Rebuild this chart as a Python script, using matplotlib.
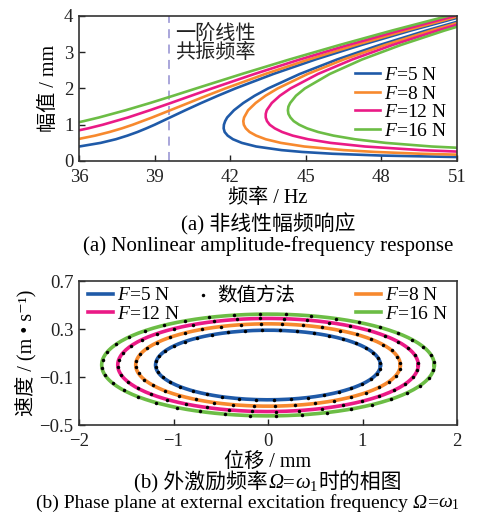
import numpy as np
import matplotlib
matplotlib.use("Agg")
import matplotlib.pyplot as plt
from matplotlib.lines import Line2D
from matplotlib.offsetbox import TextArea, HPacker, AnchoredOffsetbox

plt.rcParams['font.family'] = ['Liberation Serif', 'Noto Sans CJK SC', 'DejaVu Sans']
plt.rcParams['mathtext.fontset'] = 'custom'
plt.rcParams['mathtext.rm'] = 'Liberation Serif'
plt.rcParams['mathtext.it'] = 'Liberation Serif:italic'
plt.rcParams['axes.unicode_minus'] = True

# ---- (a) amplitude-frequency response ----
# upper (resonant) branch: amplitude [mm] -> frequency [Hz]
amp_up_5 = [0.4, 0.5, 0.6, 0.7, 0.8, 0.9, 1.0, 1.2, 1.4, 1.6, 1.8, 2.0, 2.4, 2.8, 3.2, 3.6, 4.0]
freq_up_5 = [36.01, 36.86, 37.46, 37.92, 38.32, 38.67, 39.00, 39.61, 40.22, 40.85, 41.51, 42.20,
             43.71, 45.38, 47.20, 49.17, 51.27]
amp_up_8 = [0.6, 0.7, 0.8, 0.9, 1.0, 1.2, 1.4, 1.6, 1.8, 2.0, 2.4, 2.8, 3.2, 3.6, 4.0]
freq_up_8 = [35.93, 36.64, 37.21, 37.70, 38.13, 38.90, 39.62, 40.34, 41.06, 41.80, 43.39, 45.11,
             46.98, 48.98, 51.10]
amp_up_12 = [0.8, 0.9, 1.0, 1.2, 1.4, 1.6, 1.8, 2.0, 2.4, 2.8, 3.2, 3.6, 4.0, 4.2]
freq_up_12 = [35.68, 36.36, 36.94, 37.94, 38.81, 39.64, 40.45, 41.27, 42.96, 44.76, 46.68, 48.73,
              50.89, 52.01]
amp_up_16 = [1.0, 1.1, 1.2, 1.4, 1.6, 1.8, 2.0, 2.4, 2.8, 3.2, 3.6, 4.0, 4.2]
freq_up_16 = [35.52, 36.19, 36.79, 37.85, 38.82, 39.74, 40.64, 42.46, 44.35, 46.34, 48.43, 50.63, 51.77]

# lower + unstable branch (the "C" shape)
amp_c_5 = [0.1, 0.15, 0.2, 0.25, 0.3, 0.4, 0.5, 0.6, 0.7, 0.8, 0.9, 1.0, 1.1, 1.2, 1.4, 1.6, 1.8,
           2.0, 2.4, 2.8, 3.2, 3.6, 4.0]
freq_c_5 = [51.71, 48.01, 46.06, 44.85, 44.04, 43.03, 42.46, 42.11, 41.90, 41.78, 41.74, 41.75,
            41.80, 41.88, 42.15, 42.52, 42.97, 43.50, 44.76, 46.24, 47.93, 49.79, 51.81]
amp_c_8 = [0.15, 0.2, 0.25, 0.3, 0.4, 0.5, 0.6, 0.7, 0.8, 0.9, 1.0, 1.1, 1.2, 1.4, 1.6, 1.8, 2.0,
           2.4, 2.8, 3.2, 3.6, 4.0]
freq_c_8 = [52.46, 49.56, 47.75, 46.51, 44.94, 44.01, 43.41, 43.03, 42.77, 42.62, 42.54, 42.52,
            42.55, 42.71, 43.01, 43.40, 43.88, 45.07, 46.50, 48.15, 49.98, 51.97]
amp_c_12 = [0.2, 0.25, 0.3, 0.4, 0.5, 0.6, 0.7, 0.8, 0.9, 1.0, 1.1, 1.2, 1.3, 1.4, 1.6, 1.8, 2.0,
            2.4, 2.8, 3.2, 3.6, 4.0]
freq_c_12 = [53.86, 51.34, 49.59, 47.35, 45.98, 45.09, 44.48, 44.06, 43.77, 43.57, 43.46, 43.41,
             43.41, 43.45, 43.65, 43.97, 44.39, 45.48, 46.84, 48.44, 50.23, 52.18]
amp_c_16 = [0.3, 0.4, 0.5, 0.6, 0.7, 0.8, 0.9, 1.0, 1.1, 1.2, 1.3, 1.4, 1.5, 1.6, 1.8, 2.0, 2.4,
            2.8, 3.2, 3.6, 4.0]
freq_c_16 = [52.94, 49.99, 48.17, 46.95, 46.10, 45.49, 45.05, 44.74, 44.52, 44.39, 44.31, 44.29,
             44.31, 44.38, 44.61, 44.96, 45.95, 47.23, 48.77, 50.51, 52.43]

linear_res_freq = 39.57

# ---- (b) phase plane at Omega = omega_1 ----
disp_amp = [1.19, 1.40, 1.59, 1.76]      # mm
vel_amp = [0.29, 0.343, 0.388, 0.424]    # m/s
n_dots = 40

labels = ['$F$=5 N', '$F$=8 N', '$F$=12 N', '$F$=16 N']
colors = ['#1f5aa8', '#f7892e', '#ea1a86', '#6cbd45']

fig = plt.figure(figsize=(4.99, 5.23), dpi=100)
W, H = 499, 523
ax1 = fig.add_axes([79 / W, 1 - 161 / H, 378 / W, 145 / H])
ax2 = fig.add_axes([79 / W, 1 - 425 / H, 378 / W, 144 / H])

ups = [(freq_up_5, amp_up_5), (freq_up_8, amp_up_8), (freq_up_12, amp_up_12), (freq_up_16, amp_up_16)]
cs = [(freq_c_5, amp_c_5), (freq_c_8, amp_c_8), (freq_c_12, amp_c_12), (freq_c_16, amp_c_16)]

ax1.axvline(linear_res_freq, color='#a39fd8', lw=1.3, ls=(0, (5, 3.5)))
for (fu, au), (fc, ac), col, lab in zip(ups, cs, colors, labels):
    ax1.plot(fu, au, color=col, lw=1.9, label=lab)
    ax1.plot(fc, ac, color=col, lw=1.9)

ax1.set_xlim(36, 51)
ax1.set_ylim(0, 4)
ax1.set_xticks([36, 39, 42, 45, 48, 51])
ax1.set_yticks([0, 1, 2, 3, 4])
ax1.set_xlabel('频率 / Hz', fontsize=14.5, labelpad=2)
ax1.set_ylabel('幅值 / mm', fontsize=14.5, labelpad=4)
ax1.text(39.8, 3.76, '一阶线性\n共振频率', fontsize=14.5, linespacing=0.98, va='top', ha='left',
         color='#222222')
ax1.legend(loc='lower right', bbox_to_anchor=(1.0, 0.08), frameon=False, fontsize=14,
           handlelength=1.3, handletextpad=0.2, labelspacing=0.05, borderaxespad=0.1)

# phase plane
theta = np.linspace(0, 2 * np.pi, 200)
theta_d = np.linspace(0, 2 * np.pi, n_dots, endpoint=False) + 0.05
handles = []
for xa, va, col, lab in zip(disp_amp, vel_amp, colors, labels):
    h, = ax2.plot(xa * np.cos(theta), va * np.sin(theta), color=col, lw=2.6, label=lab)
    handles.append(h)
    ax2.plot(xa * np.cos(theta_d), va * np.sin(theta_d), 'o', color='black', ms=2.5, mec='none')

ax2.set_xlim(-2, 2)
ax2.set_ylim(-0.5, 0.7)
ax2.set_xticks([-2, -1, 0, 1, 2])
ax2.set_yticks([-0.5, -0.1, 0.3, 0.7])
ax2.set_yticklabels(['\u22120.5', '\u22120.1', '0.3', '0.7'])
ax2.set_xlabel('位移 / mm', fontsize=14.5, labelpad=2)
ax2.set_ylabel('速度 / (m • s\u207b\u00b9)', fontsize=14.5, labelpad=2)

leg1 = ax2.legend(handles=[handles[0], handles[2]], loc='upper left', frameon=False, fontsize=14,
                  handlelength=1.3, handletextpad=0.2, labelspacing=0.05, borderaxespad=0.05,
                  bbox_to_anchor=(0.0, 1.02))
ax2.add_artist(leg1)
dot_h = Line2D([], [], ls='none', marker='o', color='black', ms=2.5, mec='none')
leg2 = ax2.legend(handles=[dot_h], labels=['数值方法'], loc='upper left', frameon=False, fontsize=14,
                  handlelength=0.6, handletextpad=0.4, borderaxespad=0.05, bbox_to_anchor=(0.29, 1.02))
ax2.add_artist(leg2)
ax2.legend(handles=[handles[1], handles[3]], loc='upper right', frameon=False, fontsize=14,
           handlelength=1.3, handletextpad=0.2, labelspacing=0.05, borderaxespad=0.05,
           bbox_to_anchor=(1.0, 1.02))

for ax in (ax1, ax2):
    ax.tick_params(direction='in', length=4, width=1, top=False, right=False, labelsize=13.5,
                   colors='#222222')
    ax.tick_params(axis='x', pad=6)
    ax.tick_params(axis='y', pad=4)
    for s in ax.spines.values():
        s.set_linewidth(1.2)
        s.set_color('#333333')

cx = 268 / W
fig.text(cx, 1 - 224 / H, '(a) 非线性幅频响应', ha='center', va='center', fontsize=15)
fig.text(cx, 1 - 246 / H, '(a) Nonlinear amplitude-frequency response', ha='center', va='center',
         fontsize=15)


def caption(pieces, x, y, size):
    boxes = []
    for txt, style in pieces:
        boxes.append(TextArea(txt, textprops=dict(fontsize=size, fontstyle=style)))
    pack = HPacker(children=boxes, align='baseline', pad=0, sep=0)
    ab = AnchoredOffsetbox(loc='center', child=pack, frameon=False, pad=0, borderpad=0,
                           bbox_to_anchor=(x, y), bbox_transform=fig.transFigure)
    fig.add_artist(ab)


caption([('(b) 外激励频率', 'normal'), ('Ω', 'italic'), ('=', 'normal'), ('$ω_{1}$', 'normal'),
         ('时的相图', 'normal')], cx, 1 - 482 / H, 15)
caption([('(b) Phase plane at external excitation frequency ', 'normal'), ('Ω', 'italic'),
         ('=', 'normal'), ('$ω_{1}$', 'normal')], 248 / W, 1 - 503 / H, 14)

fig.savefig('out.png', dpi=100)
